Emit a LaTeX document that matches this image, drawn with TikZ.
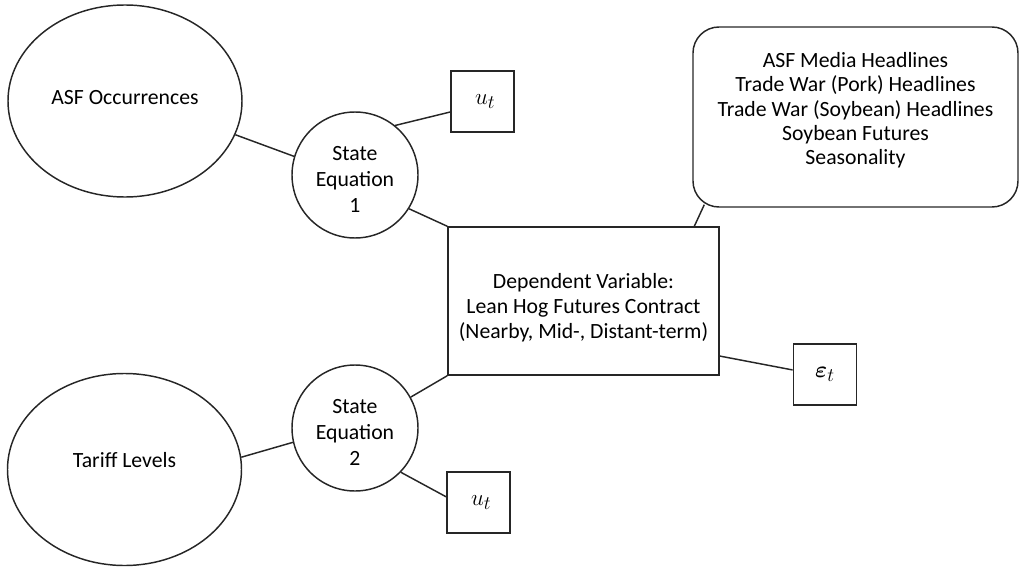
\documentclass[tikz,border=0pt]{standalone}
\usepackage{fontspec}
\setmainfont{Carlito}
\usepackage{bm}
\usetikzlibrary{shapes.geometric,calc}
\tikzset{
  base/.style={draw=black!85, line width=1.1pt, font=\fontsize{16.3}{18.75}\selectfont, align=center, inner sep=0pt},
  bigell/.style={base, ellipse, minimum width=175.5pt, minimum height=144pt},
  stateeq/.style={base, circle, minimum size=94.5pt, font=\fontsize{16.3}{19.5}\selectfont},
  errbox/.style={base, rectangle, minimum width=47.5pt, minimum height=46pt, font=\fontsize{19}{22}\selectfont},
  mainbox/.style={base, rectangle, minimum width=203.25pt, minimum height=111pt},
  listbox/.style={base, rectangle, rounded corners=19.5pt, minimum width=243.75pt, minimum height=135pt, font=\fontsize{16.3}{18.3}\selectfont},
  conn/.style={draw=black!85, line width=1.1pt}
}
\begin{document}
\begin{tikzpicture}[x=0.75pt, y=-0.75pt]
\useasboundingbox (0,0) rectangle (1021,567);
\node[bigell] (asf) at (125,101) {\raisebox{6pt}{ASF Occurrences}};
\node[bigell] (tariff) at (124.5,469.5) {\raisebox{14pt}{Tariff Levels}};
\node[stateeq] (s1) at (355,175) {\mbox{}\\[-2.5pt]State\\Equation\\1};
\node[stateeq] (s2) at (355,428) {\mbox{}\\[-2.5pt]State\\Equation\\2};
\node[errbox] (u1) at (482.5,101.5) {\hspace{4pt}$u_t$};
\node[errbox] (u2) at (478.5,502.5) {\hspace{4pt}$u_t$};
\node[mainbox] (main) at (583.5,301) {\mbox{}\\[2.5pt]Dependent Variable:\\Lean Hog Futures Contract\\(Nearby, Mid-, Distant-term)};
\node[errbox] (eps) at (825,374.5) {$\bm{\varepsilon}_t$};
\node[listbox] (rb) at (855.5,117) {ASF Media Headlines\\Trade War (Pork) Headlines\\Trade War (Soybean) Headlines\\Soybean Futures\\Seasonality\\[-5.5pt]\mbox{}};
\draw[conn] (asf.-17) -- (s1.163.5);
\draw[conn] (s1.51) -- (u1.198);
\draw[conn] (s1.-32) -- (main.north west);
\draw[conn] (main.south west) -- (s2.29);
\draw[conn] (tariff.6) -- (s2.193);
\draw[conn] (s2.-44) -- (u2.170);
\draw[conn] (main.-22) -- (eps.172);
\draw[conn] (main.34) -- ($(rb.south west)+(12,-3)$);
\end{tikzpicture}
\end{document}
